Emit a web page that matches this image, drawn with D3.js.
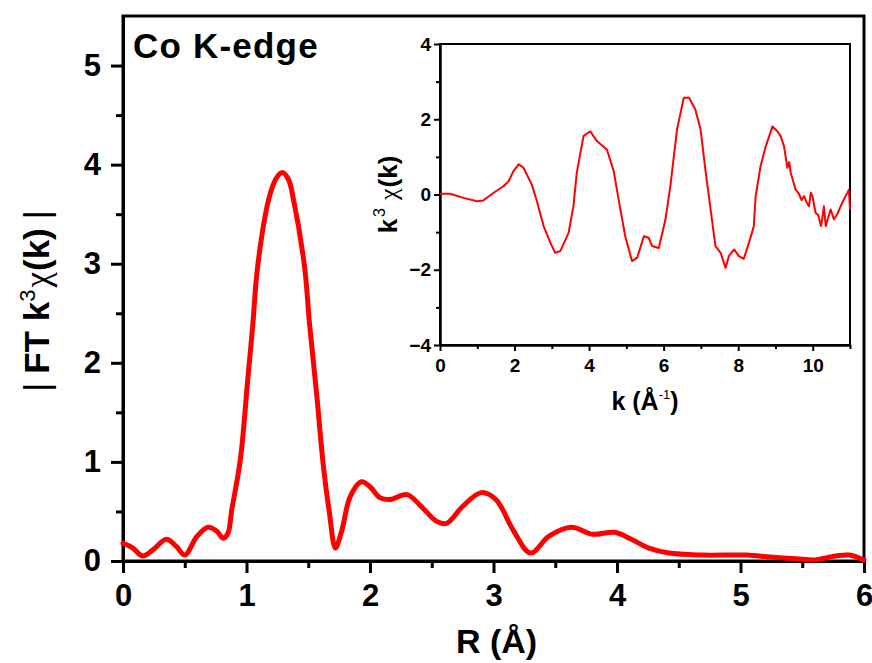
<!DOCTYPE html>
<html>
<head>
<meta charset="utf-8">
<script src="https://cdn.jsdelivr.net/npm/d3@7"></script>
<style>
  body { margin: 0; background: #fff; }
  svg { display: block; }
  text { font-family: "Liberation Sans", Arial, sans-serif; font-weight: bold; fill: #000; }
</style>
</head>
<body>
<svg id="chart" width="872" height="663"></svg>
<script>
// Fourier-transform magnitude |FT k^3 chi(k)| versus R (Å)
const rValues = [
  0, 0.08, 0.16, 0.25, 0.35, 0.43, 0.50, 0.60, 0.69, 0.76,
  0.81, 0.85, 0.88, 0.95, 1.01, 1.05, 1.09, 1.18, 1.24, 1.29,
  1.34, 1.38, 1.47, 1.51, 1.57, 1.62, 1.67, 1.72, 1.77, 1.84,
  1.93, 2.00, 2.08, 2.16, 2.30, 2.40, 2.54, 2.62, 2.75, 2.90,
  3.02, 3.16, 3.30, 3.45, 3.63, 3.80, 3.98, 4.10, 4.26, 4.42,
  4.69, 5.05, 5.24, 5.48, 5.59, 5.77, 5.88, 6.00
];
const ftMagnitude = [
  0.18, 0.13, 0.05, 0.12, 0.22, 0.15, 0.06, 0.25, 0.34, 0.30,
  0.23, 0.28, 0.51, 1.02, 1.83, 2.37, 2.97, 3.65, 3.86, 3.92,
  3.85, 3.65, 2.97, 2.40, 1.66, 0.99, 0.50, 0.13, 0.30, 0.65,
  0.80, 0.75, 0.64, 0.62, 0.67, 0.57, 0.40, 0.38, 0.55, 0.69,
  0.62, 0.31, 0.08, 0.25, 0.34, 0.27, 0.29, 0.23, 0.13, 0.08,
  0.06, 0.06, 0.04, 0.02, 0.01, 0.05, 0.06, 0.01
];

// k^3-weighted EXAFS oscillations k^3 chi(k) versus k (Å^-1)
const kValues = [
  0, 0.27, 0.63, 0.99, 1.16, 1.43, 1.70, 1.84, 1.97, 2.11,
  2.24, 2.46, 2.60, 2.78, 2.96, 3.09, 3.23, 3.45, 3.58, 3.67,
  3.85, 4.03, 4.21, 4.48, 4.66, 4.84, 4.97, 5.15, 5.29, 5.47,
  5.60, 5.69, 5.87, 6.05, 6.18, 6.36, 6.54, 6.68, 6.85, 6.99,
  7.12, 7.26, 7.39, 7.53, 7.66, 7.75, 7.89, 8.02, 8.15, 8.29,
  8.42, 8.47, 8.60, 8.74, 8.92, 9.05, 9.14, 9.23, 9.32, 9.37,
  9.41, 9.54, 9.63, 9.70, 9.77, 9.84, 9.90, 9.95, 9.99, 10.04,
  10.08, 10.15, 10.22, 10.26, 10.30, 10.35, 10.42, 10.48, 10.57, 10.66,
  10.75, 10.85, 10.93, 10.97, 11.0
];
const chiK3 = [
  0.02, 0.02, -0.09, -0.18, -0.16, 0.04, 0.22, 0.35, 0.62, 0.80,
  0.71, 0.27, -0.18, -0.84, -1.28, -1.55, -1.50, -1.02, -0.31, 0.58,
  1.55, 1.68, 1.42, 1.19, 0.62, -0.40, -1.11, -1.77, -1.68, -1.11,
  -1.15, -1.37, -1.42, -0.66, 0.22, 1.73, 2.57, 2.57, 2.26, 1.73,
  0.66, -0.40, -1.37, -1.55, -1.95, -1.64, -1.46, -1.64, -1.71, -1.28,
  -0.84, -0.04, 0.75, 1.28, 1.81, 1.68, 1.55, 1.28, 0.71, 0.86,
  0.58, 0.13, 0.02, -0.15, -0.04, -0.22, -0.31, 0.05, -0.04, -0.30,
  -0.49, -0.55, -0.84, -0.62, -0.31, -0.84, -0.60, -0.40, -0.66, -0.52,
  -0.31, -0.10, 0.04, 0.13, -0.40
];

const rTicks = [0, 1, 2, 3, 4, 5, 6];
const rMinorTicks = [0.5, 1.5, 2.5, 3.5, 4.5, 5.5];
const ftTicks = [0, 1, 2, 3, 4, 5];
const ftMinorTicks = [0.5, 1.5, 2.5, 3.5, 4.5];
const kTicks = [0, 2, 4, 6, 8, 10];
const kMinorTicks = [1, 3, 5, 7, 9, 11];
const chiTicks = [-4, -2, 0, 2, 4];
const chiMinorTicks = [-3, -1, 1, 3];

const svg = d3.select("#chart");
const RED = "#ff0000";

function styleAxis(g, width, fontSize) {
  g.select(".domain").attr("stroke", "#000").attr("stroke-width", width);
  g.selectAll(".tick line").attr("stroke", "#000").attr("stroke-width", width);
  g.selectAll(".tick text")
    .attr("fill", "#000")
    .style("font-size", fontSize + "px")
    .style("font-family", '"Liberation Sans", Arial, sans-serif')
    .style("font-weight", "bold");
}

// ---------- main panel ----------
const M = { left: 123, right: 864, top: 16, bottom: 561 };
const x = d3.scaleLinear().domain([0, 6]).range([M.left, M.right]);
const y = d3.scaleLinear().domain([0, 5.5]).range([M.bottom, M.top]);

svg.append("rect")
  .attr("x", M.left).attr("y", M.top)
  .attr("width", M.right - M.left).attr("height", M.bottom - M.top)
  .attr("fill", "none").attr("stroke", "#000").attr("stroke-width", 3);

svg.append("g").attr("transform", `translate(0,${M.bottom})`)
  .call(d3.axisBottom(x).tickValues(rMinorTicks).tickSize(7).tickSizeOuter(0).tickFormat(""))
  .call(g => styleAxis(g, 3, 31));
svg.append("g").attr("transform", `translate(0,${M.bottom})`)
  .call(d3.axisBottom(x).tickValues(rTicks).tickSize(12).tickSizeOuter(0).tickPadding(11).tickFormat(d3.format("d")))
  .call(g => styleAxis(g, 3, 31));

svg.append("g").attr("transform", `translate(${M.left},0)`)
  .call(d3.axisLeft(y).tickValues(ftMinorTicks).tickSize(7).tickSizeOuter(0).tickFormat(""))
  .call(g => styleAxis(g, 3, 31));
svg.append("g").attr("transform", `translate(${M.left},0)`)
  .call(d3.axisLeft(y).tickValues(ftTicks).tickSize(12).tickSizeOuter(0).tickPadding(10).tickFormat(d3.format("d")))
  .call(g => styleAxis(g, 3, 31));

const ftLine = d3.line()
  .x((d, i) => x(rValues[i]))
  .y(d => y(d))
  .curve(d3.curveCatmullRom.alpha(0.5));

svg.append("path")
  .datum(ftMagnitude)
  .attr("d", ftLine)
  .attr("fill", "none")
  .attr("stroke", RED)
  .attr("stroke-width", 5)
  .attr("stroke-linejoin", "round")
  .attr("stroke-linecap", "round");

// panel label
svg.append("text")
  .attr("x", 133).attr("y", 58)
  .style("font-size", "35px")
  .style("letter-spacing", "1.2px")
  .text("Co K-edge");

// x-axis title
svg.append("text")
  .attr("x", (M.left + M.right) / 2 + 3).attr("y", 653)
  .attr("text-anchor", "middle")
  .style("font-size", "34px")
  .text("R (Å)");

// y-axis title |FT k^3 chi(k)|
const yTitle = svg.append("text")
  .attr("transform", "translate(49,301) rotate(-90)")
  .attr("text-anchor", "middle")
  .style("font-size", "35px");
yTitle.append("tspan").style("font-weight", "normal").text("|");
yTitle.append("tspan").text("FT k").attr("dx", 9);
yTitle.append("tspan").text("3").attr("dy", -14).style("font-size", "22px").style("font-weight", "normal");
yTitle.append("tspan").text("χ").attr("dy", 14).attr("dx", 2)
  .style("font-family", '"Liberation Serif", "DejaVu Serif", serif')
  .style("font-weight", "normal").style("font-size", "35px");
yTitle.append("tspan").text("(k)").attr("dx", 1);
yTitle.append("tspan").style("font-weight", "normal").attr("dx", 9).text("|");

// ---------- inset panel ----------
const I = { left: 440, right: 850, top: 44, bottom: 345 };
const kx = d3.scaleLinear().domain([0, 11]).range([I.left, I.right]);
const ky = d3.scaleLinear().domain([-4, 4]).range([I.bottom, I.top]);

svg.append("rect")
  .attr("x", I.left).attr("y", I.top)
  .attr("width", I.right - I.left).attr("height", I.bottom - I.top)
  .attr("fill", "#fff").attr("stroke", "#000").attr("stroke-width", 2);

svg.append("g").attr("transform", `translate(0,${I.bottom})`)
  .call(d3.axisBottom(kx).tickValues(kMinorTicks).tickSize(4).tickSizeOuter(0).tickFormat(""))
  .call(g => styleAxis(g, 2, 19));
svg.append("g").attr("transform", `translate(0,${I.bottom})`)
  .call(d3.axisBottom(kx).tickValues(kTicks).tickSize(6).tickSizeOuter(0).tickPadding(8).tickFormat(d3.format("d")))
  .call(g => styleAxis(g, 2, 19));

svg.append("g").attr("transform", `translate(${I.left},0)`)
  .call(d3.axisLeft(ky).tickValues(chiMinorTicks).tickSize(4).tickSizeOuter(0).tickFormat(""))
  .call(g => styleAxis(g, 2, 19));
svg.append("g").attr("transform", `translate(${I.left},0)`)
  .call(d3.axisLeft(ky).tickValues(chiTicks).tickSize(6).tickSizeOuter(0).tickPadding(3).tickFormat(d3.format("d")))
  .call(g => styleAxis(g, 2, 19));

const chiLine = d3.line()
  .x((d, i) => kx(kValues[i]))
  .y(d => ky(d))
  .curve(d3.curveLinear);

svg.append("path")
  .datum(chiK3)
  .attr("d", chiLine)
  .attr("fill", "none")
  .attr("stroke", RED)
  .attr("stroke-width", 2)
  .attr("stroke-linejoin", "round");

// inset x-axis title k (Å^-1)
const kTitle = svg.append("text")
  .attr("x", (I.left + I.right) / 2).attr("y", 410)
  .attr("text-anchor", "middle")
  .style("font-size", "25px");
kTitle.append("tspan").text("k (Å");
kTitle.append("tspan").text("-1").attr("dy", -11).style("font-size", "13px").style("font-weight", "normal");
kTitle.append("tspan").text(")").attr("dy", 11);

// inset y-axis title k^3 chi(k)
const kyTitle = svg.append("text")
  .attr("transform", `translate(397,${(I.top + I.bottom) / 2}) rotate(-90)`)
  .attr("text-anchor", "middle")
  .style("font-size", "26px");
kyTitle.append("tspan").text("k");
kyTitle.append("tspan").text("3").attr("dy", -12).attr("dx", 2).style("font-size", "16px").style("font-weight", "normal");
kyTitle.append("tspan").text("χ").attr("dy", 12).attr("dx", 8)
  .style("font-family", '"Liberation Serif", "DejaVu Serif", serif')
  .style("font-weight", "normal");
kyTitle.append("tspan").text("(k)").attr("dx", 1);
</script>
</body>
</html>
